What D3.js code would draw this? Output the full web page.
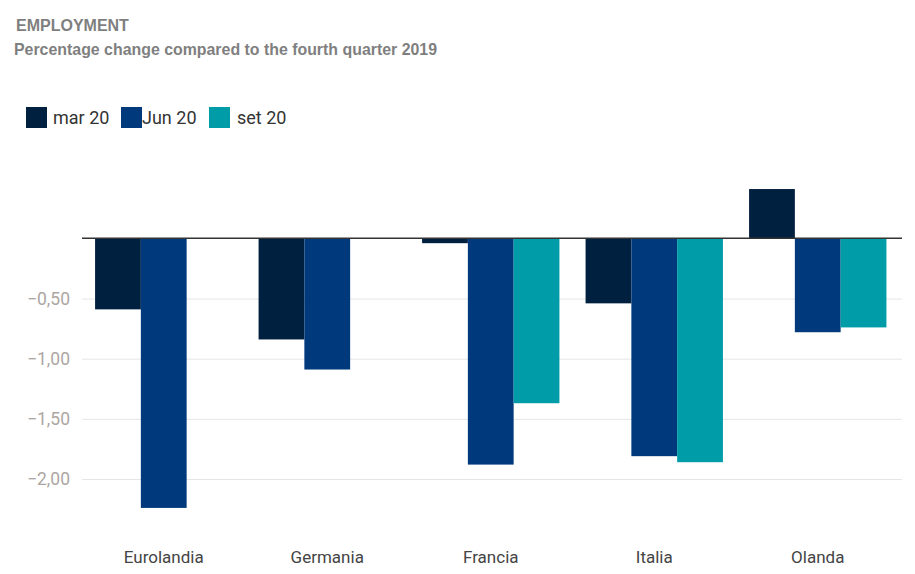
<!DOCTYPE html>
<html><head><meta charset="utf-8">
<script src="https://cdn.jsdelivr.net/npm/d3@7"></script>
<style>
html,body{margin:0;padding:0;background:#fff;}
svg{display:block;}
</style></head>
<body><svg id="c" width="915" height="574"></svg>
<script>
const categories = ["Eurolandia","Germania","Francia","Italia","Olanda"];
const seriesNames = ["mar 20","Jun 20","set 20"];
const mar20 = [-0.59, -0.84, -0.04, -0.54, 0.41];
const jun20 = [-2.24, -1.09, -1.88, -1.81, -0.78];
const set20 = [null, null, -1.37, -1.86, -0.74];
const yTicks = [-0.5, -1.0, -1.5, -2.0];
const colors = ["#00203f", "#003a7d", "#009ca8"];

const series = [mar20, jun20, set20];
const svg = d3.select("#c");

const left = 82, right = 902;
const y = d3.scaleLinear().domain([-2.5, 0.5]).range([539.2, 178.2]);
const x0 = d3.scaleBand().domain(categories).range([left, right - 2.5]).paddingInner(0.16).paddingOuter(0.08);
const x1 = d3.scaleBand().domain(seriesNames).range([0, x0.bandwidth()]);

// title
svg.append("text").attr("x", 16).attr("y", 31).text("EMPLOYMENT")
  .attr("font-family", "Liberation Sans, Arial, sans-serif").attr("font-weight", "bold")
  .attr("font-size", 16).attr("fill", "#7f7f7f");
svg.append("text").attr("x", 14).attr("y", 55).text("Percentage change compared to the fourth quarter 2019")
  .attr("font-family", "Liberation Sans, Arial, sans-serif").attr("font-weight", "bold")
  .attr("font-size", 15.9).attr("fill", "#7f7f7f");

// legend
const legX = [26, 121, 209];
const legTextOff = [27, 21, 28];
seriesNames.forEach((s, i) => {
  svg.append("rect").attr("x", legX[i]).attr("y", 107).attr("width", 21).attr("height", 21).attr("fill", colors[i]);
  svg.append("text").attr("x", legX[i] + legTextOff[i]).attr("y", 124).text(s)
    .attr("font-family", "Roboto, sans-serif").attr("font-size", 18).attr("fill", "#333");
});

// y axis with gridlines
const yAxis = d3.axisLeft(y).tickValues(yTicks).tickSize(-(right - left)).tickPadding(12)
  .tickFormat(d => d3.format(".2f")(d).replace(".", ",").replace("-", "\u2212"));
const gy = svg.append("g").attr("transform", `translate(${left},0)`).call(yAxis);
gy.select(".domain").remove();
gy.selectAll(".tick line").attr("stroke", "#e6e6e6");
gy.selectAll(".tick text").attr("font-family", "Roboto, sans-serif").attr("font-size", 17.5).attr("fill", "#aca6a2");

// bars
const groups = svg.append("g").selectAll("g").data(categories).join("g")
  .attr("transform", d => `translate(${x0(d)},0)`);
groups.selectAll("rect").data((d, ci) => series.map((arr, si) => ({s: seriesNames[si], v: arr[ci], i: si})).filter(o => o.v !== null))
  .join("rect")
  .attr("x", d => x1(d.s))
  .attr("width", x1.bandwidth())
  .attr("y", d => y(Math.max(0, d.v)))
  .attr("height", d => Math.abs(y(d.v) - y(0)))
  .attr("fill", d => colors[d.i]);

// zero line
svg.append("line").attr("x1", left).attr("x2", right).attr("y1", y(0)).attr("y2", y(0))
  .attr("stroke", "#333").attr("stroke-width", 1.5);

// x axis labels
const xAxis = d3.axisBottom(x0).tickSize(0).tickPadding(0);
const gx = svg.append("g").attr("transform", `translate(0,${y(0)})`).call(xAxis);
gx.select(".domain").remove();
gx.selectAll(".tick text").attr("y", 563 - y(0)).attr("dy", 0)
  .attr("font-family", "Roboto, sans-serif").attr("font-size", 17).attr("fill", "#444");
</script></body></html>
